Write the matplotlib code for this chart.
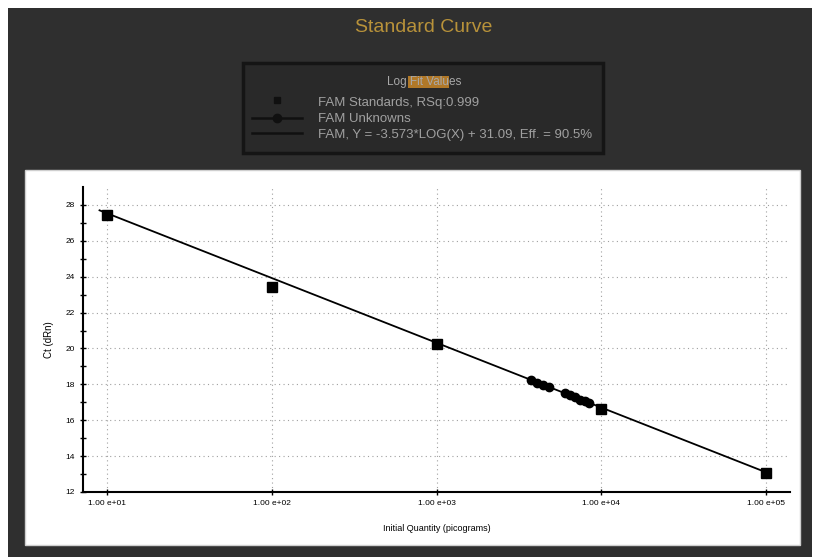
import numpy as np
import matplotlib.pyplot as plt
from matplotlib.patches import Rectangle
from matplotlib.lines import Line2D
from matplotlib.ticker import FixedLocator, NullFormatter

plt.rcParams['font.family'] = ['Liberation Sans', 'DejaVu Sans']

# standards (quantity in picograms, Ct)
std_qty = [1e1, 1e2, 1e3, 1e4, 1e5]
std_ct = [27.45, 23.4, 20.25, 16.65, 13.05]

# unknowns
unk_qty = [3750, 4070, 4430, 4820, 6030, 6460, 6920, 7410, 7940, 8410]
unk_ct = [18.25, 18.1, 17.95, 17.85, 17.5, 17.4, 17.3, 17.15, 17.05, 16.95]

# fit line end points
fit_qty = [9.0, 1e5]
fit_ct = [27.7, 13.1]

x_ticks = [1e1, 1e2, 1e3, 1e4, 1e5]
x_labels = ['1.00 e+01', '1.00 e+02', '1.00 e+03', '1.00 e+04', '1.00 e+05']
y_ticks = [12, 14, 16, 18, 20, 22, 24, 26, 28]

title = 'Standard Curve'
legend_lines = ['FAM Standards, RSq:0.999', 'FAM Unknowns',
                'FAM, Y = -3.573*LOG(X) + 31.09, Eff. = 90.5%']

fig = plt.figure(figsize=(8.2, 5.57), dpi=100)
fig.patch.set_facecolor('white')

W, H = 820, 557
def fx(px): return px / W
def fy(py): return 1 - py / H

# dark screenshot panel
fig.patches.append(Rectangle((fx(8), 0), fx(804), fy(8), transform=fig.transFigure,
                             facecolor='#2f2f2f', edgecolor='none', zorder=-3))
# white plot panel
fig.patches.append(Rectangle((fx(25), fy(545)), fx(775), (545 - 170) / H, transform=fig.transFigure,
                             facecolor='white', edgecolor='#cfcfcf', lw=1, zorder=-2))
# legend box
fig.patches.append(Rectangle((fx(243), fy(153)), fx(360), 90 / H, transform=fig.transFigure,
                             facecolor='#292929', edgecolor='#151515', lw=2.5, zorder=-2))

fig.text(fx(424), fy(27), title, color='#b8923a', fontsize=14, ha='center', va='center')

# legend title with highlighted part
fig.patches.append(Rectangle((fx(408), fy(88)), fx(41), 12 / H, transform=fig.transFigure,
                             facecolor='#b07828', edgecolor='none', zorder=-1))
fig.text(fx(424), fy(82), 'Log Fit Values', color='#a8a8a8', fontsize=8.5, ha='center', va='center')

ly = [103, 119, 135]
for y, s in zip(ly, legend_lines):
    fig.text(fx(318), fy(y), s, color='#a0a0a0', fontsize=9.5, ha='left', va='center')
fig.lines.append(Line2D([fx(277)], [fy(100)], marker='s', ms=5, color='#101010',
                        transform=fig.transFigure, ls='none'))
fig.lines.append(Line2D([fx(252), fx(302)], [fy(118), fy(118)], color='#101010', lw=1.8,
                        transform=fig.transFigure))
fig.lines.append(Line2D([fx(277)], [fy(118)], marker='o', ms=6, color='#101010',
                        transform=fig.transFigure, ls='none'))
fig.lines.append(Line2D([fx(252), fx(302)], [fy(133), fy(133)], color='#101010', lw=1.8,
                        transform=fig.transFigure))

ax = fig.add_axes([fx(83), fy(492), fx(790 - 83), (492 - 187) / H])
ax.set_facecolor('white')
ax.set_xscale('log')
ax.set_xlim(10 ** 0.854, 10 ** 5.146)
ax.set_ylim(12, 29)

ax.plot(fit_qty, fit_ct, color='black', lw=1.3, zorder=3)
ax.plot(unk_qty, unk_ct, 'o', color='black', ms=6, zorder=4)
ax.plot(std_qty, std_ct, 's', color='black', ms=6.5, zorder=5)

ax.xaxis.set_major_locator(FixedLocator(x_ticks))
ax.xaxis.set_minor_locator(FixedLocator([]))
ax.set_xticklabels(x_labels)
ax.xaxis.set_minor_formatter(NullFormatter())
ax.set_yticks(y_ticks)
ax.set_yticklabels([str(v) for v in y_ticks])
ax.set_yticks(np.arange(13, 29, 2), minor=True)

ax.grid(True, which='major', color='#a0a0a0', ls=(0, (1, 3)), lw=0.8)
ax.tick_params(axis='both', which='major', direction='inout', length=5, width=1,
               labelsize=6, colors='black')
ax.tick_params(axis='y', which='minor', direction='inout', length=4, width=1)

for s in ['top', 'right']:
    ax.spines[s].set_visible(False)
for s in ['left', 'bottom']:
    ax.spines[s].set_linewidth(1.5)

ax.set_xlabel('Initial Quantity (picograms)', fontsize=6.5, labelpad=12)
ax.set_ylabel('Ct (dRn)', fontsize=7, labelpad=8)

fig.savefig('out.png', dpi=100, facecolor=fig.get_facecolor())
